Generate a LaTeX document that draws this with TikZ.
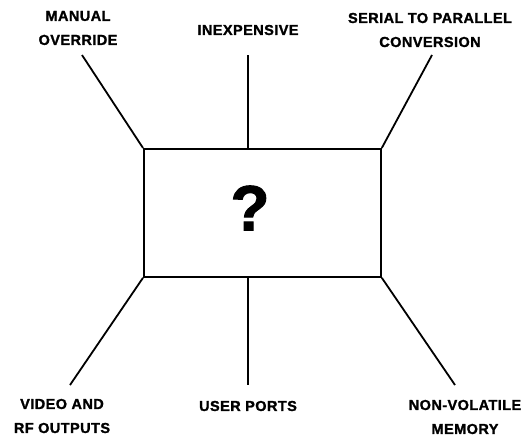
\documentclass[tikz,border=0pt]{standalone}
\usepackage{fontspec}
\setmainfont{Liberation Sans}[LetterSpace=3,BoldFeatures={FakeBold=1.5}]
\begin{document}
\begin{tikzpicture}[x=1pt,y=-1pt,line width=1.8pt,
  lbl/.style={font=\bfseries\fontsize{14.5}{24}\selectfont,align=center,inner sep=0pt}]
\useasboundingbox (0,0) rectangle (532,436);
\node[draw,minimum width=237pt,minimum height=128pt,inner sep=0pt,anchor=north west] (box) at (143,148) {};
\node[font=\bfseries\fontsize{64}{64}\selectfont,inner sep=0pt] (q) at (250,208) {?};
\coordinate (tc) at (248,148);
\coordinate (bc) at (248,276);
\coordinate (t1) at (82,55);
\coordinate (t2) at (248,55);
\coordinate (t3) at (432,55);
\coordinate (b1) at (70,385);
\coordinate (b2) at (248,385);
\coordinate (b3) at (455,385);
\draw (box.north west) -- (t1);
\draw (tc) -- (t2);
\draw (box.north east) -- (t3);
\draw (box.south west) -- (b1);
\draw (bc) -- (b2);
\draw (box.south east) -- (b3);
\node[lbl] (l1) at (78,28) {MANUAL\\OVERRIDE};
\node[lbl] (l2) at (248,30) {INEXPENSIVE};
\node[lbl] (l3) at (430,30) {SERIAL TO PARALLEL\\CONVERSION};
\node[lbl] (l4) at (62,416) {VIDEO AND\\RF OUTPUTS};
\node[lbl] (l5) at (248,406) {USER PORTS};
\node[lbl] (l6) at (465,417) {NON-VOLATILE\\MEMORY};
\end{tikzpicture}
\end{document}
